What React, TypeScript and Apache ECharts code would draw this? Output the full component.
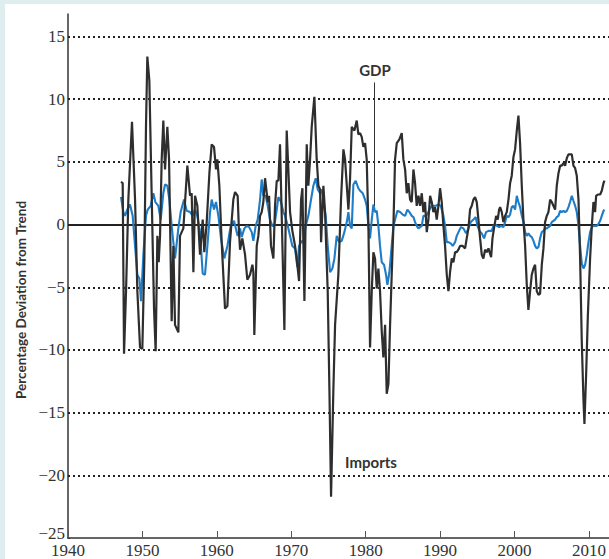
import React, { useEffect, useRef } from "react";
import * as echarts from "echarts";

const importYears = [
  1947.12, 1947.35, 1947.53, 1947.8, 1948.11, 1948.6, 1949.01, 1949.32, 1949.68, 1949.99,
  1950.26, 1950.48, 1950.66, 1950.93, 1951.24, 1951.56, 1951.78, 1952.01, 1952.19, 1952.37,
  1952.59, 1952.81, 1953.04, 1953.35, 1953.58, 1953.93, 1954.16, 1954.38, 1954.83, 1955.05,
  1955.5, 1956.04, 1956.4, 1956.62, 1956.85, 1957.07, 1957.38, 1957.74, 1958.1, 1958.32,
  1958.64, 1959.0, 1959.31, 1959.62, 1959.89, 1960.07, 1960.34, 1960.65, 1961.1, 1961.42,
  1961.77, 1962.22, 1962.45, 1962.8, 1962.98, 1963.12, 1963.43, 1963.79, 1964.1, 1964.46,
  1964.78, 1964.91, 1965.04, 1965.36, 1965.58, 1965.81, 1966.03, 1966.25, 1966.48, 1966.84,
  1967.02, 1967.28, 1967.6, 1967.82, 1968.05, 1968.27, 1968.49, 1968.72, 1969.08, 1969.39,
  1969.61, 1969.84, 1970.15, 1970.51, 1970.73, 1971.05, 1971.32, 1971.5, 1971.77, 1972.08,
  1972.3, 1972.53, 1972.75, 1973.11, 1973.42, 1973.65, 1973.87, 1974.01, 1974.32, 1974.54,
  1974.9, 1975.13, 1975.35, 1975.66, 1975.89, 1976.33, 1976.69, 1977.01, 1977.23, 1977.68,
  1977.9, 1978.13, 1978.49, 1978.8, 1979.02, 1979.25, 1979.47, 1979.69, 1979.92, 1980.14,
  1980.37, 1980.59, 1980.82, 1981.04, 1981.26, 1981.49, 1981.71, 1981.93, 1982.16, 1982.38,
  1982.61, 1982.83, 1983.06, 1983.28, 1983.5, 1983.73, 1983.95, 1984.18, 1984.53, 1984.85,
  1985.07, 1985.3, 1985.52, 1985.74, 1985.97, 1986.19, 1986.42, 1986.64, 1986.86, 1987.09,
  1987.31, 1987.54, 1987.76, 1987.98, 1988.21, 1988.43, 1988.66, 1988.88, 1989.1, 1989.33,
  1989.55, 1989.78, 1990.0, 1990.22, 1990.45, 1990.67, 1990.9, 1991.12, 1991.34, 1991.57,
  1991.79, 1992.02, 1992.24, 1992.46, 1992.69, 1993.05, 1993.36, 1993.58, 1993.81, 1994.03,
  1994.26, 1994.48, 1994.7, 1994.93, 1995.15, 1995.38, 1995.6, 1995.82, 1996.05, 1996.27,
  1996.5, 1996.86, 1997.04, 1997.3, 1997.53, 1997.75, 1997.93, 1998.07, 1998.29, 1998.51,
  1998.74, 1998.96, 1999.19, 1999.41, 1999.63, 1999.86, 2000.08, 2000.31, 2000.53, 2000.75,
  2000.98, 2001.2, 2001.43, 2001.65, 2001.87, 2002.1, 2002.32, 2002.55, 2002.77, 2002.99,
  2003.22, 2003.44, 2003.67, 2003.89, 2004.11, 2004.34, 2004.56, 2004.79, 2005.01, 2005.23,
  2005.46, 2005.68, 2005.91, 2006.13, 2006.35, 2006.58, 2006.8, 2007.03, 2007.25, 2007.47,
  2007.7, 2007.92, 2008.15, 2008.37, 2008.6, 2008.82, 2009.04, 2009.27, 2009.4, 2009.63,
  2009.85, 2010.16, 2010.39, 2010.61, 2010.83, 2010.97, 2011.19, 2011.51, 2011.73, 2011.96,
  2012.09,
];
const importValues = [
  3.4, 3.3, -10.3, -5.3, 2.0, 8.2, 2.0, -5.3, -9.8, -9.9,
  -2.7, 7.8, 13.4, 11.5, 2.5, -6.7, -10.1, -0.9, -3.0, -0.9,
  5.2, 8.3, 4.4, 7.8, 5.2, -7.7, -1.7, -8.0, -8.6, -0.9,
  -0.3, 4.7, 2.3, 2.5, -3.8, 2.3, 1.5, -2.4, 0.4, -2.2,
  0.2, 4.1, 6.4, 6.2, 4.4, 5.2, 3.1, -1.4, -6.7, -6.5,
  -1.4, 2.0, 2.6, 2.3, -0.6, -2.0, -1.1, -2.4, -4.4, -4.0,
  -3.2, -3.8, -8.8, -1.7, -0.9, 0.7, 1.0, 1.8, 3.7, 1.8,
  2.3, -1.7, -2.7, 1.5, 3.5, 3.5, 6.4, 0.7, -8.4, 7.5,
  4.4, 1.0, -0.5, -1.7, -2.7, -4.5, 2.0, 2.9, -6.1, 6.4,
  3.1, 5.2, 7.8, 10.2, 5.2, 3.1, 2.8, -1.4, 3.1, 1.0,
  -5.3, -13.2, -21.7, -13.2, -8.0, -4.0, 2.0, 6.0, 5.2, 1.2,
  3.6, 7.8, 7.5, 8.3, 7.2, 7.3, 7.0, 6.2, 6.5, 5.2,
  -0.1, -9.8, -5.3, -2.2, -2.7, -5.1, -3.5, -5.3, -8.5, -10.6,
  -8.0, -13.5, -12.7, -8.0, -4.0, -0.1, 5.2, 6.5, 6.8, 7.3,
  5.2, 4.4, 2.5, 3.3, 2.0, 1.8, 4.4, 3.3, 1.5, 2.3,
  1.5, 2.5, 1.0, 1.8, -0.6, 0.4, 2.3, 1.8, 1.0, 1.4,
  0.4, 1.5, 2.9, 1.8, -0.1, -1.7, -4.0, -5.3, -3.8, -2.7,
  -3.0, -2.2, -2.2, -2.0, -1.7, -1.7, -1.9, -1.1, -0.3, 1.2,
  1.5, 2.0, 2.2, 1.8, 0.4, -1.1, -2.4, -2.7, -2.0, -2.2,
  -1.9, -2.6, -1.1, -0.1, 0.7, 0.4, 1.2, 1.4, 1.0, 0.2,
  0.7, 1.0, 2.0, 3.3, 3.9, 5.4, 6.0, 7.5, 8.7, 6.5,
  3.1, 0.4, -1.7, -4.8, -6.8, -5.3, -4.0, -3.5, -3.2, -5.3,
  -5.6, -5.5, -3.2, -1.9, 0.2, 0.7, 1.0, 2.0, 1.8, 1.5,
  1.2, 3.1, 4.1, 4.7, 4.7, 4.9, 4.7, 5.3, 5.6, 5.6,
  5.6, 4.7, 4.5, 3.9, 2.0, -2.7, -9.3, -14.0, -15.9, -11.9,
  -7.4, -2.7, -0.1, 1.8, 1.0, 2.3, 2.4, 2.4, 2.7, 3.3,
  3.5,
];

const gdpYears = [
  1947.12, 1947.44, 1947.66, 1947.97, 1948.33, 1948.69, 1949.01, 1949.32, 1949.59, 1949.81,
  1950.13, 1950.48, 1950.71, 1951.11, 1951.47, 1951.74, 1952.14, 1952.46, 1952.81, 1953.04,
  1953.35, 1953.62, 1953.93, 1954.38, 1954.83, 1955.14, 1955.59, 1955.95, 1956.4, 1956.76,
  1957.07, 1957.38, 1957.74, 1958.1, 1958.41, 1958.73, 1959.09, 1959.31, 1959.62, 1959.89,
  1960.21, 1960.56, 1961.01, 1961.42, 1961.86, 1962.31, 1962.8, 1963.12, 1963.34, 1963.7,
  1964.01, 1964.33, 1964.69, 1964.91, 1965.22, 1965.49, 1965.81, 1966.03, 1966.25, 1966.57,
  1966.84, 1967.15, 1967.46, 1967.73, 1968.05, 1968.27, 1968.63, 1968.94, 1969.17, 1969.53,
  1969.84, 1970.15, 1970.51, 1970.82, 1971.05, 1971.41, 1971.63, 1971.94, 1972.3, 1972.66,
  1972.97, 1973.29, 1973.56, 1973.87, 1974.09, 1974.32, 1974.63, 1974.9, 1975.22, 1975.53,
  1975.8, 1976.11, 1976.42, 1976.78, 1977.14, 1977.46, 1977.68, 1977.9, 1978.13, 1978.35,
  1978.66, 1979.02, 1979.25, 1979.61, 1979.92, 1980.14, 1980.37, 1980.59, 1980.82, 1981.04,
  1981.26, 1981.49, 1981.71, 1981.93, 1982.16, 1982.47, 1982.74, 1982.92, 1983.19, 1983.5,
  1983.73, 1984.09, 1984.27, 1984.62, 1984.98, 1985.3, 1985.61, 1985.88, 1986.19, 1986.42,
  1986.64, 1986.86, 1987.09, 1987.31, 1987.54, 1987.76, 1988.12, 1988.43, 1988.75, 1989.1,
  1989.46, 1989.78, 1990.09, 1990.45, 1990.67, 1990.9, 1991.12, 1991.43, 1991.7, 1992.02,
  1992.24, 1992.55, 1992.82, 1993.14, 1993.49, 1993.81, 1994.12, 1994.48, 1994.79, 1995.02,
  1995.29, 1995.6, 1995.91, 1996.18, 1996.5, 1996.95, 1997.17, 1997.39, 1997.62, 1997.93,
  1998.2, 1998.51, 1998.74, 1998.96, 1999.19, 1999.41, 1999.63, 1999.86, 2000.08, 2000.31,
  2000.53, 2000.75, 2000.98, 2001.2, 2001.43, 2001.65, 2001.87, 2002.1, 2002.32, 2002.55,
  2002.77, 2002.99, 2003.22, 2003.44, 2003.67, 2003.89, 2004.11, 2004.34, 2004.56, 2004.79,
  2005.01, 2005.23, 2005.46, 2005.68, 2005.91, 2006.13, 2006.35, 2006.58, 2006.8, 2007.03,
  2007.25, 2007.47, 2007.7, 2007.92, 2008.15, 2008.37, 2008.6, 2008.82, 2009.04, 2009.27,
  2009.49, 2009.72, 2009.94, 2010.16, 2010.39, 2010.61, 2010.83, 2011.06, 2011.28, 2011.51,
  2011.73, 2011.96, 2012.09,
];
const gdpValues = [
  2.2, 1.0, 0.7, 1.2, 1.6, 0.7, -1.7, -4.0, -4.3, -6.1,
  -2.4, 0.7, 1.2, 1.5, 2.5, 1.8, 1.5, 0.4, 2.5, 3.2,
  3.1, 2.0, -0.1, -2.7, -0.3, 1.0, 2.0, 1.1, 1.0, 0.7,
  1.2, 0.7, -0.6, -3.9, -4.0, -1.7, 1.0, 2.0, 1.2, 1.8,
  0.7, -1.1, -2.7, -1.7, -0.1, 0.3, -0.9, -0.3, -1.0, -0.3,
  -0.1, -0.2, -0.6, -1.3, -0.1, 0.4, 2.0, 3.6, 2.3, 2.3,
  1.5, 0.4, -0.1, -0.1, 1.2, 2.2, 1.8, 1.0, 0.7, -0.1,
  -0.9, -1.7, -1.9, -3.4, -1.7, -1.3, -1.4, -0.1, 0.7, 2.0,
  3.1, 3.7, 2.8, 2.5, 2.8, 2.0, 0.7, -1.7, -3.8, -3.5,
  -2.7, -0.9, -1.4, -1.3, -0.6, 0.2, 1.0, -0.1, -0.3, 3.2,
  3.5, 2.9, 2.7, 2.5, 2.0, 1.5, -0.1, -1.1, 0.4, 1.6,
  1.0, 1.1, -0.1, -1.7, -3.0, -3.2, -4.0, -4.8, -3.8, -1.7,
  -0.1, 0.7, 1.1, 1.0, 0.8, 0.7, 1.2, 1.0, 0.7, 0.6,
  0.2, -0.1, -0.3, -0.2, -0.1, 0.7, 0.7, 1.0, 1.4, 1.5,
  1.5, 1.6, 1.5, 0.7, -0.1, -1.4, -1.4, -1.5, -1.7, -1.4,
  -0.9, -0.5, -0.2, -0.3, -0.7, -0.3, 0.2, 0.4, 0.6, -0.1,
  -0.5, -0.7, -1.1, -0.6, -0.5, -0.5, -0.1, 0.05, -0.1, -0.2,
  -0.1, -0.2, 0.2, 0.7, 0.6, 0.8, 1.4, 1.5, 1.2, 2.3,
  1.8, 1.4, 0.7, 0.2, -0.6, -0.9, -0.7, -0.9, -1.0, -1.3,
  -1.7, -1.9, -1.8, -1.1, -0.6, -0.5, -0.3, -0.3, -0.2, -0.1,
  0.2, 0.3, 0.4, 0.6, 0.7, 1.1, 1.0, 1.1, 1.0, 1.1,
  1.4, 1.8, 2.3, 1.9, 1.5, 1.0, -0.1, -1.7, -3.1, -3.5,
  -3.2, -2.4, -1.4, -0.6, -0.2, -0.1, -0.1, -0.1, 0.05, 0.3,
  0.7, 1.1, 1.2,
];

const xTickValues = [1940, 1950, 1960, 1970, 1980, 1990, 2000, 2010];
const yTickValues = [-25, -20, -15, -10, -5, 0, 5, 10, 15];
const dottedGridValues = [-20, -15, -10, -5, 5, 10, 15];
const zeroLineValue = 0;
const gdpPointerYear = 1981.15;
const gdpPointerRange = [1.5, 11.34];

const LABEL_FONT = "'Liberation Serif', 'DejaVu Serif', serif";
const BOLD_FONT = "Lato, 'Open Sans', sans-serif";

export default function App() {
  const ref = useRef<HTMLDivElement>(null);

  useEffect(() => {
    if (!ref.current) return;
    const chart = echarts.init(ref.current, null, { renderer: "svg" });
    chart.setOption({
      animation: false,
      backgroundColor: "#ffffff",
      grid: { left: 63, right: 0, top: 10, bottom: 16, containLabel: false },
      xAxis: {
        type: "value",
        min: 1940,
        max: 2012.7,
        interval: 10,
        axisLine: { show: true, onZero: false, lineStyle: { color: "#333", width: 1.5 } },
        axisTick: {
          show: true,
          inside: true,
          length: 7,
          customValues: xTickValues,
          lineStyle: { color: "#555", width: 1 },
        },
        axisLabel: {
          customValues: xTickValues,
          fontFamily: LABEL_FONT,
          fontSize: 17,
          color: "#333",
          margin: 4,
          formatter: (v: number) => String(v),
        },
        splitLine: { show: false },
      },
      yAxis: {
        type: "value",
        min: -25,
        max: 16.8,
        interval: 5,
        axisLine: { show: true, onZero: false, lineStyle: { color: "#333", width: 1.5 } },
        axisTick: {
          show: true,
          inside: true,
          length: 2,
          customValues: yTickValues,
          lineStyle: { color: "#333", width: 1 },
        },
        axisLabel: {
          customValues: yTickValues,
          fontFamily: LABEL_FONT,
          fontSize: 17,
          color: "#333",
          margin: 3,
          formatter: (v: number) => {
            const s = String(v).replace("-", "\u2212");
            return v === yTickValues[0] ? `{low|${s}}` : s;
          },
          rich: {
            low: {
              fontFamily: LABEL_FONT,
              fontSize: 17,
              color: "#333",
              padding: [0, 0, 9, 0],
            },
          },
        },
        splitLine: { show: false },
      },
      series: [
        {
          name: "GDP",
          type: "line",
          data: gdpYears.map((y, i) => [y, gdpValues[i]]),
          showSymbol: false,
          symbol: "none",
          z: 3,
          lineStyle: { color: "#1f7cc6", width: 2.1 },
          itemStyle: { color: "#1f7cc6" },
          markLine: {
            silent: true,
            z: 1,
            symbol: ["none", "none"],
            label: { show: false },
            data: [
              ...dottedGridValues.map((v) => ({
                yAxis: v,
                lineStyle: { color: "#222", width: 2, type: [2, 3] },
              })),
              {
                yAxis: zeroLineValue,
                lineStyle: { color: "#222", width: 2, type: "solid" },
              },
            ],
          },
        },
        {
          name: "Imports",
          type: "line",
          data: importYears.map((y, i) => [y, importValues[i]]),
          showSymbol: false,
          symbol: "none",
          z: 4,
          lineStyle: { color: "#2e2e2e", width: 2.2 },
          itemStyle: { color: "#2e2e2e" },
          markLine: {
            silent: true,
            symbol: ["none", "none"],
            label: { show: false },
            lineStyle: { color: "#333", width: 1, type: "solid" },
            data: [
              [
                { coord: [gdpPointerYear, gdpPointerRange[0]] },
                { coord: [gdpPointerYear, gdpPointerRange[1]] },
              ],
            ],
          },
        },
      ],
      graphic: [
        {
          type: "text",
          x: 16,
          y: 296,
          rotation: Math.PI / 2,
          style: {
            text: "Percentage Deviation from Trend",
            font: `bold 13.5px ${BOLD_FONT}`,
            fill: "#333",
            textAlign: "center",
            textVerticalAlign: "middle",
          },
        },
        {
          type: "text",
          x: 370,
          y: 66,
          style: {
            text: "GDP",
            font: `bold 15px ${BOLD_FONT}`,
            fill: "#333",
            textAlign: "center",
            textVerticalAlign: "middle",
          },
        },
        {
          type: "text",
          x: 366,
          y: 458,
          style: {
            text: "Imports",
            font: `bold 15px ${BOLD_FONT}`,
            fill: "#333",
            textAlign: "center",
            textVerticalAlign: "middle",
          },
        },
      ],
    });
    return () => chart.dispose();
  }, []);

  return (
    <div
      style={{
        position: "absolute",
        left: 0,
        top: 0,
        width: 609,
        height: 559,
        background: "#deeeee",
        overflow: "hidden",
      }}
    >
      <div
        ref={ref}
        style={{ position: "absolute", left: 5, top: 4, width: 604, height: 555 }}
      />
    </div>
  );
}
